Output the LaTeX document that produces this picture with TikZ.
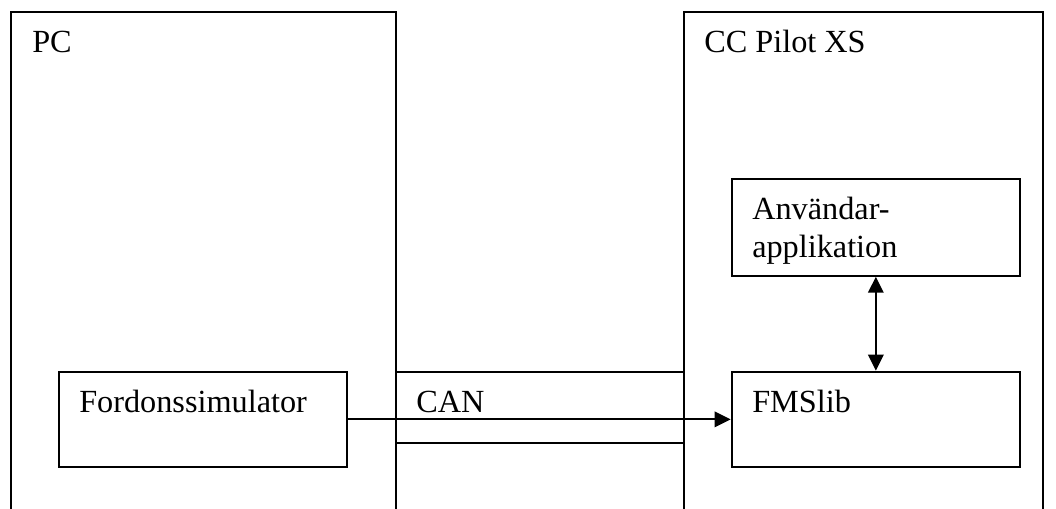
\documentclass[tikz,border=0pt]{standalone}
\usepackage{fontspec}
\setmainfont{Liberation Serif}
\usetikzlibrary{arrows.meta,fit}
\begin{document}
\begin{tikzpicture}[x=0.75pt,y=-0.75pt,
  frame/.style={draw,line width=1.5pt},
  box/.style={draw,line width=1.5pt,inner sep=0pt},
  lbl/.style={anchor=base west,inner sep=0pt,font=\fontsize{24.2}{29}\selectfont},
  conn/.style={line width=1.7pt,-{Triangle[length=12pt,width=11.5pt]}},
  dconn/.style={line width=1.7pt,{Triangle[length=12pt,width=11.5pt]}-{Triangle[length=12pt,width=11.5pt]}}]
\useasboundingbox (0,0) rectangle (1056,508);
% outer frames (open at the bottom)
\draw[frame] (11,510) -- (11,12) -- (396,12) -- (396,510);
\draw[frame] (684,510) -- (684,12) -- (1043,12) -- (1043,510);
\node[lbl] (pc) at (32,52) {PC};
\node[lbl] (cc) at (704,52) {CC Pilot XS};
% inner boxes
\node[box,fit={(59,371.7) (346.7,467)}] (fs) {};
\node[box,fit={(396,371.7) (684,442.7)}] (can) {};
\node[box,fit={(731.7,371.7) (1020,467)}] (fms) {};
\node[box,fit={(731.7,179.3) (1020,275.7)}] (app) {};
\node[lbl] (fst) at (79,412) {Fordonssimulator};
\node[lbl] (cant) at (416,412) {CAN};
\node[lbl] (fmst) at (752,412) {FMSlib};
\node[lbl] (app1) at (752,219) {Användar-};
\node[lbl] (app2) at (752,257) {applikation};
% connectors
\draw[conn] (fs.east) -- (fms.west);
\draw[dconn] (app.south) -- (fms.north);
\end{tikzpicture}
\end{document}
